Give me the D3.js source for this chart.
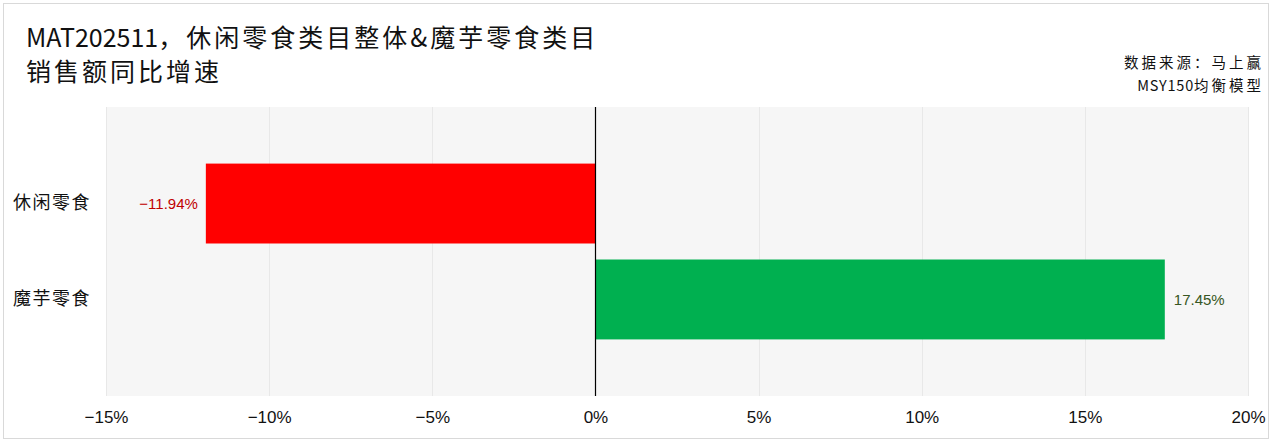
<!DOCTYPE html>
<html><head><meta charset="utf-8">
<script src="https://cdn.jsdelivr.net/npm/d3@7/dist/d3.min.js"></script>
<style>
html,body{margin:0;padding:0;background:#fff;}
svg{display:block;}
</style></head>
<body><svg id="c" width="1272" height="442"></svg>
<script>
const categories = ["休闲零食", "魔芋零食"];
const values = [-11.94, 17.45];
const barColors = ["#FF0000", "#00B050"];
const labelColors = ["#C00000", "#375623"];
const xTicks = [-15, -10, -5, 0, 5, 10, 15, 20];
const titleLines = ["MAT202511，休闲零食类目整体&魔芋零食类目", "销售额同比增速"];
const sourceLines = ["数据来源：马上赢", "MSY150均衡模型"];

const svg = d3.select("#c");
const W = 1272, H = 442;
const cjk = "'Noto Sans CJK SC', sans-serif";
const narrow = "'Liberation Sans Narrow','Liberation Sans', Arial, sans-serif";

// split a string into ascii / non-ascii runs
function runs(s) {
  const out = [];
  for (const ch of s) {
    const a = /[\x00-\x7F]/.test(ch) && ch !== "&";
    if (out.length && out[out.length - 1].a === a) out[out.length - 1].t += ch;
    else out.push({t: ch, a});
  }
  return out;
}
function spaced(sel, sp, asciiSp) {
  sel.each(function(d) {
    const t = d3.select(this);
    t.selectAll("tspan").data(runs(d)).join("tspan")
      .attr("letter-spacing", r => r.a ? (asciiSp || 0) : sp)
      .text(r => r.t);
  });
}

// outer border
svg.append("rect").attr("x", 3.5).attr("y", 3.5).attr("width", W - 7).attr("height", H - 7)
  .attr("fill", "#fff").attr("stroke", "#d9d9d9").attr("stroke-width", 1);

const plot = {l: 106, r: 1248, t: 107, b: 396};
const x = d3.scaleLinear().domain([-15, 20]).range([plot.l, plot.r]);
const y = d3.scaleBand().domain(categories).range([plot.t, plot.b]).paddingInner(0.167).paddingOuter(0.59);

// plot background
svg.append("rect").attr("x", plot.l).attr("y", plot.t).attr("width", plot.r - plot.l).attr("height", plot.b - plot.t)
  .attr("fill", "#f6f6f6");

// grid
svg.append("g").selectAll("line").data(xTicks.filter(d => d !== 0)).join("line")
  .attr("x1", d => Math.round(x(d)) + 0.5).attr("x2", d => Math.round(x(d)) + 0.5)
  .attr("y1", plot.t).attr("y2", plot.b).attr("stroke", "#e8e8e8").attr("stroke-width", 1);

// bars
svg.append("g").selectAll("rect").data(values).join("rect")
  .attr("x", d => x(Math.min(0, d)))
  .attr("y", (d, i) => y(categories[i]))
  .attr("width", d => Math.abs(x(d) - x(0)))
  .attr("height", y.bandwidth())
  .attr("fill", (d, i) => barColors[i]);

// zero line
svg.append("line").attr("x1", Math.round(x(0)) + 0.5).attr("x2", Math.round(x(0)) + 0.5)
  .attr("y1", plot.t).attr("y2", plot.b).attr("stroke", "#000").attr("stroke-width", 1.2);

// value labels
svg.append("g").selectAll("text").data(values).join("text")
  .attr("x", d => d < 0 ? x(d) - 8 : x(d) + 9)
  .attr("y", (d, i) => y(categories[i]) + y.bandwidth() / 2)
  .attr("dy", "0.35em")
  .attr("text-anchor", d => d < 0 ? "end" : "start")
  .attr("fill", (d, i) => labelColors[i])
  .attr("font-family", narrow).attr("font-size", 15)
  .text(d => (d < 0 ? "−" + Math.abs(d).toFixed(2) : d.toFixed(2)) + "%");

// category labels
const yAxis = d3.axisLeft(y).tickSize(0).tickPadding(0);
const gy = svg.append("g").attr("transform", `translate(91,0)`).call(yAxis);
gy.select(".domain").remove();
gy.selectAll("text").attr("font-family", cjk).attr("font-size", 18).attr("letter-spacing", 1.5).attr("fill", "#111");

// x axis
const xAxis = d3.axisBottom(x).tickValues(xTicks).tickSize(0).tickPadding(0)
  .tickFormat(d => (d < 0 ? "−" + Math.abs(d) : d) + "%");
const gx = svg.append("g").attr("transform", `translate(0,${plot.b + 15})`).call(xAxis);
gx.select(".domain").remove();
gx.selectAll("text").attr("font-family", narrow).attr("font-size", 17).attr("fill", "#111");

// title
svg.append("g").selectAll("text").data(titleLines).join("text")
  .attr("x", 26).attr("y", (d, i) => 47 + i * 34)
  .attr("font-family", cjk).attr("font-size", 25).attr("fill", "#111")
  .call(spaced, 3);

// source
svg.append("g").selectAll("text").data(sourceLines).join("text")
  .attr("x", 1264).attr("y", (d, i) => 68 + i * 23)
  .attr("text-anchor", "end")
  .attr("font-family", cjk).attr("font-size", 14.5).attr("fill", "#111")
  .call(spaced, 3, 0.8);
svg.selectAll("text").filter(function(){ return false; });
</script>
</body></html>
